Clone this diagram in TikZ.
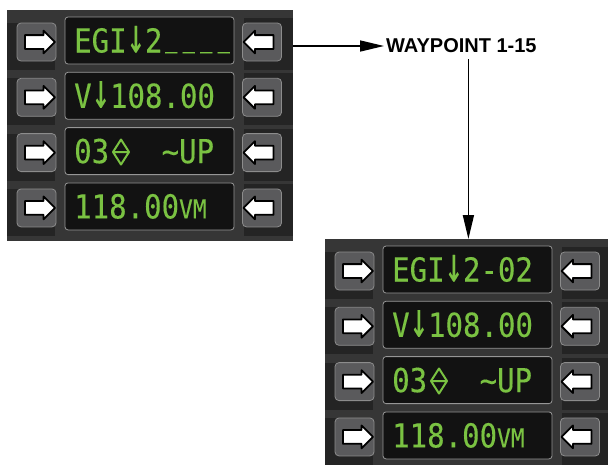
\documentclass[tikz,border=0pt]{standalone}
\usepackage{fontspec}
\usepackage{graphicx}
\setmainfont{Liberation Sans}
\newfontfamily\mfdfont[FakeStretch=0.88, FakeBold=0.25]{DejaVu Sans Mono}
\usetikzlibrary{arrows.meta,shapes.arrows,positioning}
\definecolor{mfdgreen}{RGB}{122,194,66}
\definecolor{panelbg}{RGB}{54,54,54}
\definecolor{panelshade}{RGB}{36,36,36}
\definecolor{keyfill}{RGB}{90,90,92}
\definecolor{keyedge}{RGB}{140,140,140}
\definecolor{screenfill}{RGB}{18,18,18}
\definecolor{screenedge}{RGB}{150,150,150}
\newcommand{\dnarrow}{\scalebox{1.05}[1.5]{↓}}
\newcommand{\blank}{\makebox[0.53em]{\raisebox{0.21em}{\scalebox{0.7}[1]{\_}}}}

\begin{document}
\begin{tikzpicture}[x=1pt, y=-1pt,
    panel/.style={rectangle, fill=panelbg, inner sep=0pt, minimum width=286pt, minimum height=231pt, anchor=north west},
    shade/.style={fill=panelshade},
    screen/.style={rectangle, draw=screenedge, fill=screenfill, rounded corners=3pt, line width=0.8pt, minimum width=169pt, minimum height=47pt, inner sep=0pt},
    key/.style={rectangle, draw=keyedge, fill=keyfill, rounded corners=4pt, line width=0.8pt, minimum width=39pt, minimum height=38pt, inner sep=0pt},
    keyarrow/.style={single arrow, draw=black, fill=white, line width=1.8pt, line join=round, minimum height=30pt, inner sep=6pt, single arrow head extend=4.5pt, single arrow head indent=0pt},
    readout/.style={anchor=base west, inner sep=0pt, text=mfdgreen, font=\mfdfont\fontsize{33}{33}\selectfont},
    flow/.style={line width=1.6pt, -{Triangle[length=24pt,width=11pt]}}
]
\useasboundingbox (0,0) rectangle (608,464);
\clip (0,0) rectangle (608,464);

% Panels
\foreach \p/\dx/\dy/\first in {a/0/0/{EGI\dnarrow2\blank\blank\blank\blank}, b/318/229/{EGI\dnarrow2-02}} {
  \begin{scope}[shift={(\dx,\dy)}]
    \node[panel] (\p frame) at (7,10) {};
    \foreach \i/\txt in {1/{\first}, 2/{V\dnarrow108.00}, 3/{03\phantom{000}\textasciitilde UP}, 4/{118.00{\fontsize{26}{26}\selectfont VM}}} {
      \pgfmathsetmacro{\top}{17+55.3*(\i-1)}
      \fill[shade] (7,\top+6) rectangle (55,\top+53);
      \fill[shade] (244,\top+1) rectangle (293,\top+53);
      \node[screen] (\p s\i) at (149.5,\top+23.5) {};
      \node[key] (\p l\i) at (36.5,\top+25) {};
      \node[key] (\p r\i) at (262,\top+25) {};
      \node[keyarrow] (\p la\i) at (\p l\i) {};
      \node[keyarrow, shape border rotate=180] (\p ra\i) at (\p r\i) {};
      \node[readout] (\p t\i) at (74,\top+35.5) {\txt};
    }
    % course symbol
    \draw[mfdgreen, line width=2pt, line join=round] (113,152) -- (121,139.5) -- (129,152) -- (121,164.5) -- cycle (113,152) -- (129,152);
  \end{scope}
}

% Label and flow
\node[font=\bfseries\fontsize{20}{20}\selectfont, anchor=west, inner sep=2pt] (wp) at (384,46) {WAYPOINT 1-15};
\draw[flow] (aframe.east |- wp) -- (wp.west);
\draw[flow] ([xshift=7pt, yshift=-4pt]wp.south) -- ([xshift=7pt]wp.south |- bframe.north);

\end{tikzpicture}
\end{document}
